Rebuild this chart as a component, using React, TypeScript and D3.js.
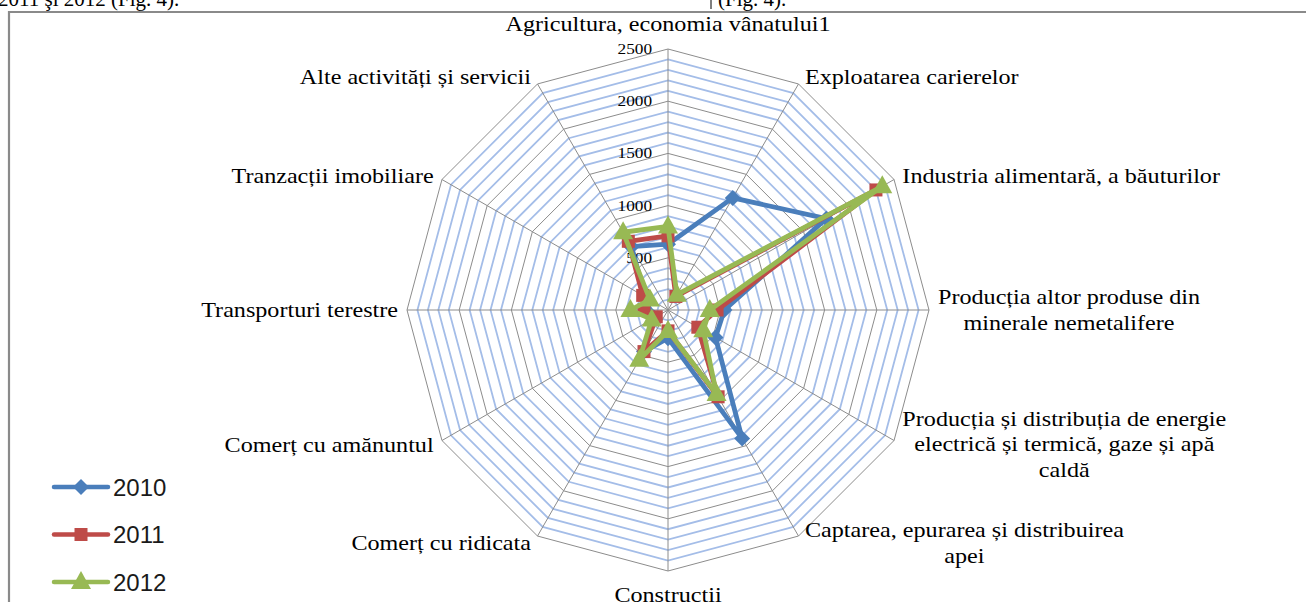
import { useEffect, useRef } from "react";
import * as d3 from "d3";

const categories = [
  "Agricultura, economia vânatului1",
  "Exploatarea carierelor",
  "Industria alimentară, a băuturilor",
  "Producția altor produse din\nminerale nemetalifere",
  "Producția și distribuția de energie\nelectrică și termică, gaze și apă\ncaldă",
  "Captarea, epurarea și distribuirea\napei",
  "Construcții",
  "Comerț cu ridicata",
  "Comerț cu amănuntul",
  "Transporturi terestre",
  "Tranzacții imobiliare",
  "Alte activități și servicii",
];

const values2010 = [630, 1240, 1750, 540, 525, 1420, 270, 460, 150, 210, 250, 700];
const values2011 = [710, 150, 2300, 470, 330, 960, 200, 460, 130, 230, 280, 760];
const values2012 = [800, 170, 2370, 400, 390, 930, 200, 550, 180, 360, 200, 860];

const years = ["2010", "2011", "2012"];
const tickValues = [0, 500, 1000, 1500, 2000, 2500];

const W = 1306;
const H = 602;

export default function App() {
  const ref = useRef(null);

  useEffect(() => {
    const svg = d3.select(ref.current);
    svg.selectAll("*").remove();

    const cx = 668;
    const cy = 310;
    const R = 261;
    const n = categories.length;
    const r = d3.scaleLinear().domain([0, 2500]).range([0, R]);
    const ang = (i) => (i * 2 * Math.PI) / n;
    const pt = (i, v) => [cx + r(v) * Math.sin(ang(i)), cy - r(v) * Math.cos(ang(i))];
    const serif = "'Liberation Serif', 'Times New Roman', serif";
    const stretch = 1.15;

    // page text above the chart (cut off in the source too)
    svg.append("text").attr("x", -2).attr("y", 6).attr("font-family", serif)
      .attr("font-size", 21).text("2011 şi 2012 (Fig. 4).");
    svg.append("text").attr("x", 718).attr("y", 6).attr("font-family", serif)
      .attr("font-size", 21).text("(Fig. 4).");
    svg.append("line").attr("x1", 711).attr("x2", 711).attr("y1", 0).attr("y2", 9)
      .attr("stroke", "#000").attr("stroke-width", 1);

    // chart frame
    svg.append("path").attr("d", `M9,${H + 10}V12H${W + 10}`).attr("fill", "none")
      .attr("stroke", "#8a8a8a").attr("stroke-width", 2.2);

    const ring = (v) => d3.range(n).map((i) => pt(i, v));
    const poly = (v) => "M" + ring(v).map((p) => p.join(",")).join("L") + "Z";

    // minor gridlines
    const minor = d3.range(100, 2500, 100).filter((v) => v % 500 !== 0);
    svg.append("g").selectAll("path").data(minor).join("path")
      .attr("d", poly).attr("fill", "none").attr("stroke", "#a4bde8").attr("stroke-width", 1.8);

    // spokes
    svg.append("g").selectAll("line").data(d3.range(n)).join("line")
      .attr("x1", cx).attr("y1", cy)
      .attr("x2", (i) => pt(i, 2500)[0]).attr("y2", (i) => pt(i, 2500)[1])
      .attr("stroke", "#8c8c8c").attr("stroke-width", 1);

    // major gridlines
    svg.append("g").selectAll("path").data(tickValues.slice(1)).join("path")
      .attr("d", poly).attr("fill", "none").attr("stroke", "#8c8c8c").attr("stroke-width", 1);

    // tick labels
    svg.append("g").selectAll("text").data(tickValues).join("text")
      .attr("transform", (v) => `translate(${cx - 16},${cy - r(v) + 5}) scale(${stretch},1)`)
      .attr("text-anchor", "end").attr("font-family", serif).attr("font-size", 15)
      .text((v) => v);

    // category labels
    const lineH = 26;
    categories.forEach((label, i) => {
      const lines = label.split("\n");
      const a = ang(i);
      const s = Math.sin(a);
      const c = Math.cos(a);
      const [vx, vy] = pt(i, 2500);
      const g = svg.append("g");
      const inner = g.append("g").attr("transform", `scale(${stretch},1)`);
      const texts = lines.map((t, k) =>
        inner.append("text").attr("font-family", serif).attr("font-size", 21)
          .attr("text-anchor", "middle").attr("y", k * lineH).text(t)
      );
      const widths = texts.map((t) => t.node().getComputedTextLength() * stretch);
      const bw = d3.max(widths);
      const bh = (lines.length - 1) * lineH;
      const off = 4 + 5 * Math.abs(s);
      let centerX;
      if (s > 0.05) centerX = vx + off + bw / 2;
      else if (s < -0.05) centerX = vx - off - bw / 2;
      else centerX = vx;
      let centerY;
      if (Math.abs(s) < 0.05) centerY = c > 0 ? vy - 25 : vy + 24;
      else centerY = vy - 8 * c;
      g.attr("transform", `translate(${centerX},${centerY - bh / 2 + 7})`);
    });

    // series
    const series = [
      { name: years[0], values: values2010, color: "#4a7ebb", marker: "diamond" },
      { name: years[1], values: values2011, color: "#be4b48", marker: "square" },
      { name: years[2], values: values2012, color: "#98b954", marker: "triangle" },
    ];

    const markerPath = (type) => {
      if (type === "diamond") return "M0,-8L8,0L0,8L-8,0Z";
      if (type === "square") return "M-6.5,-6.5H6.5V6.5H-6.5Z";
      return "M0,-11L10,7H-10Z";
    };

    const line = d3.lineRadial()
      .angle((d, i) => ang(i))
      .radius((d) => r(d))
      .curve(d3.curveLinearClosed);

    series.forEach((s) => {
      const g = svg.append("g");
      g.append("path").attr("transform", `translate(${cx},${cy})`)
        .attr("d", line(s.values)).attr("fill", "none")
        .attr("stroke", s.color).attr("stroke-width", 4.8).attr("stroke-linejoin", "round");
      g.selectAll("path.m").data(s.values).join("path").attr("class", "m")
        .attr("transform", (d, i) => `translate(${pt(i, d).join(",")})`)
        .attr("d", markerPath(s.marker)).attr("fill", s.color);
    });

    // legend
    const legend = svg.append("g").selectAll("g").data(series).join("g")
      .attr("transform", (d, k) => `translate(54,${487 + k * 47.5})`);
    legend.append("line").attr("x1", 0).attr("x2", 54).attr("y1", 0).attr("y2", 0)
      .attr("stroke", (d) => d.color).attr("stroke-width", 4.5).attr("stroke-linecap", "round");
    legend.append("path").attr("transform", "translate(27,0)")
      .attr("d", (d) => markerPath(d.marker)).attr("fill", (d) => d.color);
    legend.append("text").attr("x", 59).attr("y", 8.5)
      .attr("font-family", "'Liberation Sans', Arial, sans-serif").attr("font-size", 24)
      .attr("fill", "#1a1a1a").text((d) => d.name);
  }, []);

  return (
    <svg
      ref={ref}
      width={W}
      height={H}
      style={{ position: "absolute", left: 0, top: 0, background: "#fff" }}
    />
  );
}
